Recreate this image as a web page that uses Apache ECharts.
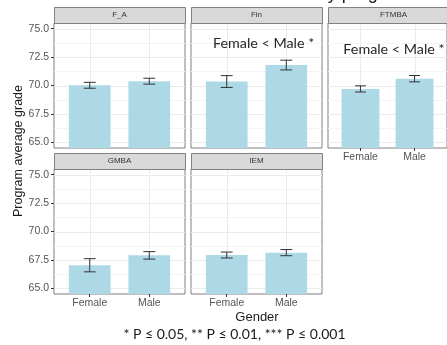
<!DOCTYPE html>
<html>
<head>
<meta charset="utf-8">
<script src="https://cdn.jsdelivr.net/npm/echarts@6/dist/echarts.min.js"></script>
<style>
  html, body { margin: 0; padding: 0; background: #fff; }
  #chart { width: 447px; height: 345px; }
</style>
</head>
<body>
<div id="chart"></div>
<script>
// Programs (facets) and genders (bars inside each facet)
const programs = ['F_A', 'Fin', 'FTMBA', 'GMBA', 'IEM'];
const genders = ['Female', 'Male'];

// Mean program grade and standard error, per program
const femaleMean = [70.02, 70.35, 69.70, 67.03, 67.93];
const femaleErr  = [0.26, 0.52, 0.27, 0.58, 0.26];
const maleMean   = [70.38, 71.80, 70.60, 67.90, 68.14];
const maleErr    = [0.26, 0.43, 0.28, 0.33, 0.27];

// Significance notes
const notePrograms = ['Fin', 'FTMBA'];
const noteText = ['Female < Male *', 'Female < Male *'];
const noteY = [73.70, 73.20];
const noteX = 1.62;

// Y axis ticks
const yTicks = [65, 67.5, 70, 72.5, 75];
const yMinor = [66.25, 68.75, 71.25, 73.75];
const yMin = 64.5, yMax = 75.5;

// Facet grid layout (3 columns, 2 rows)
const colLeft = [54, 191, 328];
const rowTop = [23, 169];
const panelW = 131, panelH = 125, stripH = 16;
const facetCell = [[0, 0], [1, 0], [2, 0], [0, 1], [1, 1]];
const showXAxis = [false, false, true, true, true];
const showYAxis = [true, false, false, true, false];

const BAR = '#add8e6';
const INK = '#333333';
const TICK_TXT = '#555555';
const BORDER = '#808080';

const grids = [], xAxes = [], yAxes = [], series = [], graphics = [];

programs.forEach((p, i) => {
  const [c, r] = facetCell[i];
  const left = colLeft[c], top = rowTop[r];
  grids.push({
    left: left, top: top, width: panelW, height: panelH,
    show: true, backgroundColor: '#fff', borderColor: BORDER, borderWidth: 1,
    containLabel: false
  });
  xAxes.push({
    type: 'value', gridIndex: i, min: 0.4, max: 2.6,
    axisLine: { show: false },
    splitLine: { show: false },
    axisTick: { show: showXAxis[i], length: 3, lineStyle: { color: INK }, customValues: [1, 2] },
    axisLabel: {
      show: showXAxis[i], margin: 4, fontSize: 10.5, color: TICK_TXT,
      fontFamily: 'Liberation Sans', customValues: [1, 2],
      formatter: v => genders[Math.round(v) - 1]
    }
  });
  yAxes.push({
    type: 'value', gridIndex: i, min: yMin, max: yMax,
    axisLine: { show: false },
    splitLine: { show: false },
    axisTick: { show: showYAxis[i], length: 3, lineStyle: { color: INK }, customValues: yTicks },
    axisLabel: {
      show: showYAxis[i], margin: 5, fontSize: 10.5, color: TICK_TXT,
      fontFamily: 'Liberation Sans', customValues: yTicks,
      formatter: v => v.toFixed(1)
    }
  });

  // panel grid lines: [kind, value] with kind 0 = major h, 1 = minor h, 2 = major v
  const gl = [];
  yTicks.forEach(v => gl.push([0, v]));
  yMinor.forEach(v => gl.push([1, v]));
  [1, 2].forEach(v => gl.push([2, v]));
  series.push({
    type: 'custom', xAxisIndex: i, yAxisIndex: i, silent: true, z: 1,
    data: gl,
    renderItem: (params, api) => {
      const kind = api.value(0), v = api.value(1);
      const cs = params.coordSys;
      let shape;
      if (kind === 2) {
        const x = Math.round(api.coord([v, yMin])[0]) + 0.5;
        shape = { x1: x, y1: cs.y, x2: x, y2: cs.y + cs.height };
      } else {
        const y = Math.round(api.coord([0.4, v])[1]) + 0.5;
        shape = { x1: cs.x, y1: y, x2: cs.x + cs.width, y2: y };
      }
      return {
        type: 'line', shape: shape,
        style: { stroke: kind === 1 ? '#f4f4f4' : '#ebebeb', lineWidth: 1 }
      };
    }
  });

  // bars with error bars
  series.push({
    type: 'custom', xAxisIndex: i, yAxisIndex: i, z: 3,
    data: [[1, femaleMean[i], femaleErr[i]], [2, maleMean[i], maleErr[i]]],
    renderItem: (params, api) => {
      const x = api.value(0), m = api.value(1), e = api.value(2);
      const cs = params.coordSys;
      const tl = api.coord([x - 0.35, m]);
      const tr = api.coord([x + 0.35, m]);
      const bottom = cs.y + cs.height;
      const hi = api.coord([x, m + e]), lo = api.coord([x, m - e]);
      const capL = api.coord([x - 0.1, m])[0], capR = api.coord([x + 0.1, m])[0];
      const ls = { stroke: INK, lineWidth: 1 };
      return {
        type: 'group',
        children: [
          { type: 'rect', shape: { x: tl[0], y: tl[1], width: tr[0] - tl[0], height: bottom - tl[1] },
            style: { fill: BAR } },
          { type: 'line', shape: { x1: hi[0], y1: hi[1], x2: lo[0], y2: lo[1] }, style: ls },
          { type: 'line', shape: { x1: capL, y1: hi[1], x2: capR, y2: hi[1] }, style: ls },
          { type: 'line', shape: { x1: capL, y1: lo[1], x2: capR, y2: lo[1] }, style: ls }
        ]
      };
    }
  });

  // significance note
  const k = notePrograms.indexOf(p);
  if (k >= 0) {
    series.push({
      type: 'custom', xAxisIndex: i, yAxisIndex: i, z: 4, silent: true,
      data: [[noteX, noteY[k]]],
      renderItem: (params, api) => {
        const pt = api.coord([api.value(0), api.value(1)]);
        return {
          type: 'text', x: pt[0], y: pt[1],
          style: { text: noteText[k], align: 'center', verticalAlign: 'middle',
                   fontSize: 14.3, fontFamily: 'Lato', fill: '#262626' }
        };
      }
    });
  }

  // facet strip
  graphics.push({
    type: 'rect', left: left, top: top - stripH, z: 10,
    shape: { width: panelW, height: stripH },
    style: { fill: '#d9d9d9', stroke: BORDER, lineWidth: 1 }
  });
  graphics.push({
    type: 'text', x: left + panelW / 2, y: top - stripH / 2, z: 11,
    style: { text: p, align: 'center', verticalAlign: 'middle', fontSize: 8,
             fontFamily: 'Liberation Sans', fill: '#333' }
  });
});

// axis titles, caption and heading
graphics.push(
  { type: 'text', x: 160, y: -6, z: 11,
    style: { text: 'Gender differences by program', align: 'left', verticalAlign: 'middle',
             fontSize: 18, fontFamily: 'Liberation Sans', fill: '#1a1a1a' } },
  { type: 'text', x: 19, y: 151, rotation: Math.PI / 2, z: 11,
    style: { text: 'Program average grade', align: 'center', verticalAlign: 'middle',
             fontSize: 12.5, fontFamily: 'Liberation Sans', fill: '#1a1a1a' } },
  { type: 'text', x: 257, y: 317, z: 11,
    style: { text: 'Gender', align: 'center', verticalAlign: 'middle',
             fontSize: 13, fontFamily: 'Liberation Sans', fill: '#1a1a1a' } },
  { type: 'text', x: 234.5, y: 334, z: 11,
    style: { text: '* P \u2264 0.05, ** P \u2264 0.01, *** P \u2264 0.001', align: 'center', verticalAlign: 'middle',
             fontSize: 14, fontFamily: 'Lato', fill: '#1a1a1a' } }
);

const chart = echarts.init(document.getElementById('chart'), null, { renderer: 'canvas' });
chart.setOption({
  animation: false,
  backgroundColor: '#fff',
  grid: grids,
  xAxis: xAxes,
  yAxis: yAxes,
  series: series,
  graphic: graphics
});
</script>
</body>
</html>
